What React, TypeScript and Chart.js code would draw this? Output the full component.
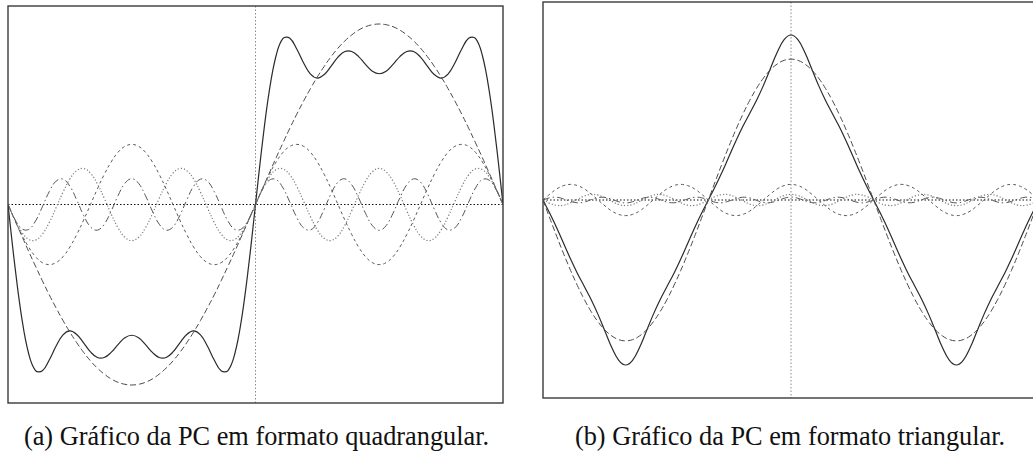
import React, { useEffect, useRef } from "react";
import { Chart, registerables } from "chart.js";

Chart.register(...registerables);

// Angle grid (degrees) shared by both panels
const ANGLES = [
  -180, -175, -170, -165, -160, -155, -150, -145, -140, -135, -130, -125, -120, -115, -110, -105, -100, -95,
  -90, -85, -80, -75, -70, -65, -60, -55, -50, -45, -40, -35, -30, -25, -20, -15, -10, -5,
  0, 5, 10, 15, 20, 25, 30, 35, 40, 45, 50, 55, 60, 65, 70, 75, 80, 85, 90,
  95, 100, 105, 110, 115, 120, 125, 130, 135, 140, 145, 150, 155, 160, 165, 170, 175, 180,
];

// (a) square wave: partial sum and harmonics 1, 3, 5, 7
const squareSum = [
  0, -0.433, -0.799, -1.051, -1.171, -1.173, -1.097, -0.998, -0.92, -0.892, -0.917, -0.976, -1.04, -1.079, -1.079, -1.043, -0.988, -0.94,
  -0.922, -0.94, -0.988, -1.043, -1.079, -1.079, -1.04, -0.976, -0.917, -0.892, -0.92, -0.998, -1.097, -1.173, -1.171, -1.051, -0.799, -0.433,
  0, 0.433, 0.799, 1.051, 1.171, 1.173, 1.097, 0.998, 0.92, 0.892, 0.917, 0.976, 1.04, 1.079, 1.079, 1.043, 0.988, 0.94, 0.922,
  0.94, 0.988, 1.043, 1.079, 1.079, 1.04, 0.976, 0.917, 0.892, 0.92, 0.998, 1.097, 1.173, 1.171, 1.051, 0.799, 0.433, 0,
];
const squareH1 = [
  0, -0.111, -0.221, -0.33, -0.435, -0.538, -0.637, -0.73, -0.818, -0.9, -0.975, -1.043, -1.103, -1.154, -1.196, -1.23, -1.254, -1.268,
  -1.273, -1.268, -1.254, -1.23, -1.196, -1.154, -1.103, -1.043, -0.975, -0.9, -0.818, -0.73, -0.637, -0.538, -0.435, -0.33, -0.221, -0.111,
  0, 0.111, 0.221, 0.33, 0.435, 0.538, 0.637, 0.73, 0.818, 0.9, 0.975, 1.043, 1.103, 1.154, 1.196, 1.23, 1.254, 1.268, 1.273,
  1.268, 1.254, 1.23, 1.196, 1.154, 1.103, 1.043, 0.975, 0.9, 0.818, 0.73, 0.637, 0.538, 0.435, 0.33, 0.221, 0.111, 0,
];
const squareH3 = [
  0, -0.11, -0.212, -0.3, -0.368, -0.41, -0.424, -0.41, -0.368, -0.3, -0.212, -0.11, 0, 0.11, 0.212, 0.3, 0.368, 0.41,
  0.424, 0.41, 0.368, 0.3, 0.212, 0.11, 0, -0.11, -0.212, -0.3, -0.368, -0.41, -0.424, -0.41, -0.368, -0.3, -0.212, -0.11,
  0, 0.11, 0.212, 0.3, 0.368, 0.41, 0.424, 0.41, 0.368, 0.3, 0.212, 0.11, 0, -0.11, -0.212, -0.3, -0.368, -0.41, -0.424,
  -0.41, -0.368, -0.3, -0.212, -0.11, 0, 0.11, 0.212, 0.3, 0.368, 0.41, 0.424, 0.41, 0.368, 0.3, 0.212, 0.11, 0,
];
const squareH5 = [
  0, -0.108, -0.195, -0.246, -0.251, -0.209, -0.127, -0.022, 0.087, 0.18, 0.239, 0.254, 0.221, 0.146, 0.044, -0.066, -0.164, -0.231,
  -0.255, -0.231, -0.164, -0.066, 0.044, 0.146, 0.221, 0.254, 0.239, 0.18, 0.087, -0.022, -0.127, -0.209, -0.251, -0.246, -0.195, -0.108,
  0, 0.108, 0.195, 0.246, 0.251, 0.209, 0.127, 0.022, -0.087, -0.18, -0.239, -0.254, -0.221, -0.146, -0.044, 0.066, 0.164, 0.231, 0.255,
  0.231, 0.164, 0.066, -0.044, -0.146, -0.221, -0.254, -0.239, -0.18, -0.087, 0.022, 0.127, 0.209, 0.251, 0.246, 0.195, 0.108, 0,
];
const squareH7 = [
  0, -0.104, -0.171, -0.176, -0.117, -0.016, 0.091, 0.165, 0.179, 0.129, 0.032, -0.077, -0.158, -0.181, -0.139, -0.047, 0.062, 0.149,
  0.182, 0.149, 0.062, -0.047, -0.139, -0.181, -0.158, -0.077, 0.032, 0.129, 0.179, 0.165, 0.091, -0.016, -0.117, -0.176, -0.171, -0.104,
  0, 0.104, 0.171, 0.176, 0.117, 0.016, -0.091, -0.165, -0.179, -0.129, -0.032, 0.077, 0.158, 0.181, 0.139, 0.047, -0.062, -0.149, -0.182,
  -0.149, -0.062, 0.047, 0.139, 0.181, 0.158, 0.077, -0.032, -0.129, -0.179, -0.165, -0.091, 0.016, 0.117, 0.176, 0.171, 0.104, 0,
];

// (b) triangle wave: partial sum and harmonics 1, 3, 5, 7
const triSum = [
  0, -0.078, -0.161, -0.251, -0.34, -0.423, -0.498, -0.574, -0.66, -0.756, -0.851, -0.923,
  -0.95, -0.923, -0.851, -0.756, -0.66, -0.574, -0.498, -0.423, -0.34, -0.251, -0.161, -0.078,
  0, 0.078, 0.161, 0.251, 0.34, 0.423, 0.498, 0.574, 0.66, 0.756, 0.851, 0.923,
  0.95, 0.923, 0.851, 0.756, 0.66, 0.574, 0.498, 0.423, 0.34, 0.251, 0.161, 0.078, 0,
  -0.078, -0.161, -0.251, -0.34, -0.423, -0.498, -0.574, -0.66, -0.756, -0.851, -0.923, -0.95,
  -0.923, -0.851, -0.756, -0.66, -0.574, -0.498, -0.423, -0.34, -0.251, -0.161, -0.078, 0,
];
const triH1 = [
  0, -0.106, -0.21, -0.31, -0.405, -0.493, -0.573, -0.643, -0.702, -0.749, -0.783, -0.804,
  -0.811, -0.804, -0.783, -0.749, -0.702, -0.643, -0.573, -0.493, -0.405, -0.31, -0.21, -0.106,
  0, 0.106, 0.21, 0.31, 0.405, 0.493, 0.573, 0.643, 0.702, 0.749, 0.783, 0.804,
  0.811, 0.804, 0.783, 0.749, 0.702, 0.643, 0.573, 0.493, 0.405, 0.31, 0.21, 0.106, 0,
  -0.106, -0.21, -0.31, -0.405, -0.493, -0.573, -0.643, -0.702, -0.749, -0.783, -0.804, -0.811,
  -0.804, -0.783, -0.749, -0.702, -0.643, -0.573, -0.493, -0.405, -0.31, -0.21, -0.106, 0,
];
const triH3 = [
  0, 0.034, 0.064, 0.083, 0.09, 0.083, 0.064, 0.034, 0, -0.034, -0.064, -0.083,
  -0.09, -0.083, -0.064, -0.034, 0, 0.034, 0.064, 0.083, 0.09, 0.083, 0.064, 0.034,
  0, -0.034, -0.064, -0.083, -0.09, -0.083, -0.064, -0.034, 0, 0.034, 0.064, 0.083,
  0.09, 0.083, 0.064, 0.034, 0, -0.034, -0.064, -0.083, -0.09, -0.083, -0.064, -0.034, 0,
  0.034, 0.064, 0.083, 0.09, 0.083, 0.064, 0.034, 0, -0.034, -0.064, -0.083, -0.09,
  -0.083, -0.064, -0.034, 0, 0.034, 0.064, 0.083, 0.09, 0.083, 0.064, 0.034, 0,
];
const triH5 = [
  0, -0.02, -0.031, -0.03, -0.016, 0.004, 0.023, 0.032, 0.028, 0.012, -0.008, -0.026,
  -0.032, -0.026, -0.008, 0.012, 0.028, 0.032, 0.023, 0.004, -0.016, -0.03, -0.031, -0.02,
  0, 0.02, 0.031, 0.03, 0.016, -0.004, -0.023, -0.032, -0.028, -0.012, 0.008, 0.026,
  0.032, 0.026, 0.008, -0.012, -0.028, -0.032, -0.023, -0.004, 0.016, 0.03, 0.031, 0.02, 0,
  -0.02, -0.031, -0.03, -0.016, 0.004, 0.023, 0.032, 0.028, 0.012, -0.008, -0.026, -0.032,
  -0.026, -0.008, 0.012, 0.028, 0.032, 0.023, 0.004, -0.016, -0.03, -0.031, -0.02, 0,
];
const triH7 = [
  0, 0.013, 0.016, 0.006, -0.008, -0.016, -0.012, 0.002, 0.014, 0.015, 0.004, -0.01,
  -0.017, -0.01, 0.004, 0.015, 0.014, 0.002, -0.012, -0.016, -0.008, 0.006, 0.016, 0.013,
  0, -0.013, -0.016, -0.006, 0.008, 0.016, 0.012, -0.002, -0.014, -0.015, -0.004, 0.01,
  0.017, 0.01, -0.004, -0.015, -0.014, -0.002, 0.012, 0.016, 0.008, -0.006, -0.016, -0.013, 0,
  0.013, 0.016, 0.006, -0.008, -0.016, -0.012, 0.002, 0.014, 0.015, 0.004, -0.01, -0.017,
  -0.01, 0.004, 0.015, 0.014, 0.002, -0.012, -0.016, -0.008, 0.006, 0.016, 0.013, 0,
];

const captionA = "(a) Gráfico da PC em formato quadrangular.";
const captionB = "(b) Gráfico da PC em formato triangular.";

const STYLE_SUM = { borderColor: "#2b2b2b", borderWidth: 1.2, borderDash: [] as number[] };
const STYLE_H1 = { borderColor: "#4a4a4a", borderWidth: 1, borderDash: [6, 3] };
const STYLE_H3 = { borderColor: "#5a5a5a", borderWidth: 1, borderDash: [3, 3] };
const STYLE_H5 = { borderColor: "#7a7a7a", borderWidth: 1.2, borderDash: [1.2, 2] };
const STYLE_H7 = { borderColor: "#555555", borderWidth: 1, borderDash: [7, 3, 1.5, 3] };

const framePlugin = {
  id: "frame",
  beforeDatasetsDraw(chart: any) {
    const { ctx, chartArea: a, scales } = chart;
    const x0 = scales.x.getPixelForValue(0);
    const y0 = scales.y.getPixelForValue(0);
    ctx.save();
    ctx.lineWidth = 1;
    ctx.setLineDash([1.5, 2]);
    ctx.strokeStyle = "#8a8a8a";
    ctx.beginPath();
    ctx.moveTo(x0, a.top);
    ctx.lineTo(x0, a.bottom);
    ctx.stroke();
    ctx.strokeStyle = "#111";
    ctx.beginPath();
    ctx.moveTo(a.left, y0);
    ctx.lineTo(a.right, y0);
    ctx.stroke();
    ctx.restore();
  },
  afterDraw(chart: any) {
    const { ctx, chartArea: a } = chart;
    ctx.save();
    ctx.lineWidth = 1.4;
    ctx.strokeStyle = "#3a3a3a";
    ctx.setLineDash([]);
    ctx.strokeRect(a.left, a.top, a.right - a.left, a.bottom - a.top);
    ctx.restore();
  },
};

type Series = { values: number[]; style: any };

function Panel(props: {
  left: number;
  width: number;
  height: number;
  padding: { left: number; right: number; top: number; bottom: number };
  yMax: number;
  series: Series[];
}) {
  const ref = useRef<HTMLCanvasElement | null>(null);
  useEffect(() => {
    if (!ref.current) return;
    const chart = new Chart(ref.current, {
      type: "line",
      data: {
        datasets: props.series.map((s) => ({
          data: ANGLES.map((a, i) => ({ x: a, y: s.values[i] })),
          ...s.style,
          pointRadius: 0,
          fill: false,
          tension: 0.4,
        })),
      },
      options: {
        animation: false,
        responsive: false,
        devicePixelRatio: 1,
        layout: { padding: props.padding },
        plugins: { legend: { display: false }, tooltip: { enabled: false } },
        scales: {
          x: { type: "linear", min: -180, max: 180, display: false },
          y: { type: "linear", min: -props.yMax, max: props.yMax, display: false },
        },
      },
      plugins: [framePlugin],
    } as any);
    return () => chart.destroy();
  }, []);
  return (
    <canvas
      ref={ref}
      width={props.width}
      height={props.height}
      style={{ position: "absolute", left: props.left, top: 0, width: props.width, height: props.height }}
    />
  );
}

const captionStyle: React.CSSProperties = {
  position: "absolute",
  top: 423.5,
  fontFamily: '"Liberation Serif", "Times New Roman", serif',
  fontSize: "26.3px",
  lineHeight: 1,
  textAlign: "center",
  color: "#111",
  whiteSpace: "nowrap",
};

export default function App() {
  return (
    <div
      style={{
        position: "fixed",
        left: 0,
        top: 0,
        width: 1033,
        height: 455,
        overflow: "hidden",
        background: "#fff",
      }}
    >
      <Panel
        left={0}
        width={512}
        height={410}
        padding={{ left: 8, right: 9, top: 6, bottom: 7 }}
        yMax={1.4}
        series={[
          { values: squareH5, style: STYLE_H5 },
          { values: squareH7, style: STYLE_H7 },
          { values: squareH3, style: STYLE_H3 },
          { values: squareH1, style: STYLE_H1 },
          { values: squareSum, style: STYLE_SUM },
        ]}
      />
      <Panel
        left={530}
        width={520}
        height={410}
        padding={{ left: 13, right: 11, top: 2, bottom: 12 }}
        yMax={1.14}
        series={[
          { values: triH5, style: STYLE_H5 },
          { values: triH7, style: STYLE_H7 },
          { values: triH3, style: STYLE_H3 },
          { values: triH1, style: STYLE_H1 },
          { values: triSum, style: STYLE_SUM },
        ]}
      />
      <div style={{ ...captionStyle, left: 0, width: 513 }}>{captionA}</div>
      <div style={{ ...captionStyle, left: 530, width: 520 }}>{captionB}</div>
    </div>
  );
}
